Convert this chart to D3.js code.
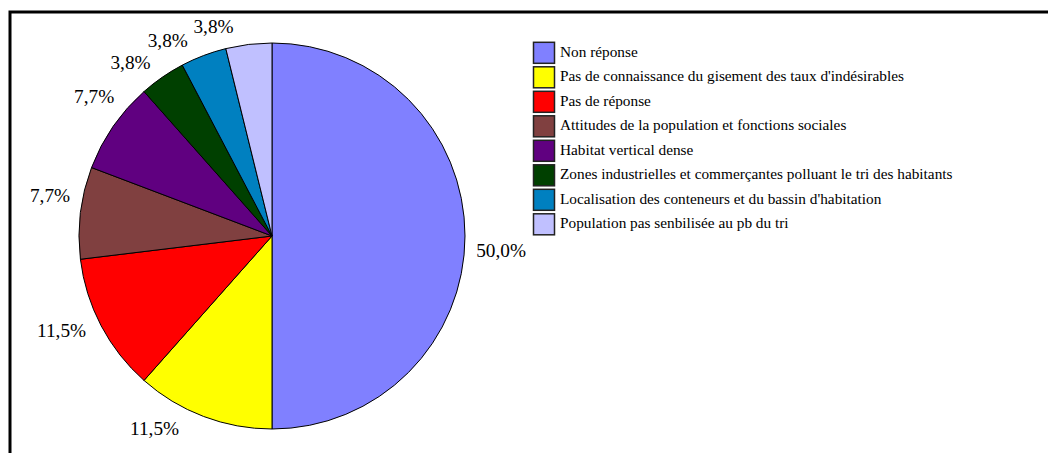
<!DOCTYPE html>
<html>
<head>
<meta charset="utf-8">
<script src="https://cdn.jsdelivr.net/npm/d3@7"></script>
<style>
  html, body { margin: 0; padding: 0; background: #fff; }
  svg { display: block; }
</style>
</head>
<body>
<svg id="chart" width="1048" height="453"></svg>
<script>
// ---- data ----
const categories = [
  "Non réponse",
  "Pas de connaissance du gisement des taux d'indésirables",
  "Pas de réponse",
  "Attitudes de la population et fonctions sociales",
  "Habitat vertical dense",
  "Zones industrielles et commerçantes polluant le tri des habitants",
  "Localisation des conteneurs et du bassin d'habitation",
  "Population pas senbilisée au pb du tri"
];
const counts = [13, 3, 3, 2, 2, 1, 1, 1];
const percentLabels = ["50,0%", "11,5%", "11,5%", "7,7%", "7,7%", "3,8%", "3,8%", "3,8%"];
const colors = ["#8080FF", "#FFFF00", "#FF0000", "#804040", "#600080", "#004000", "#0080C0", "#C0C0FF"];

// ---- layout ----
const FONT = "'Liberation Serif', 'Times New Roman', Times, 'DejaVu Serif', serif";
const cx = 272, cy = 236, R = 193;
const labelFont = 19.3;
const legendFont = 15.3;
const labelAngleOffset = 3.5 * Math.PI / 180;

const svg = d3.select("#chart");

// frame
svg.append("rect")
  .attr("x", 10).attr("y", 12)
  .attr("width", 1200).attr("height", 600)
  .attr("fill", "none").attr("stroke", "#000").attr("stroke-width", 3);

const pie = d3.pie().sort(null).value(d => d)(counts);
const arc = d3.arc().innerRadius(0).outerRadius(R);

const g = svg.append("g").attr("transform", `translate(${cx},${cy})`);
g.selectAll("path.slice")
  .data(pie)
  .join("path")
  .attr("class", "slice")
  .attr("d", arc)
  .attr("fill", (d, i) => colors[i])
  .attr("stroke", "#000")
  .attr("stroke-width", 1);

// ---- labels with simple collision handling ----
const gap = 8;
const boxH = labelFont * 1.15;
const padW = 3;
const minTop = 15 - cy, maxBottom = 439 - cy;

const labels = g.selectAll("text.lbl")
  .data(pie)
  .join("text")
  .attr("class", "lbl")
  .attr("font-family", FONT)
  .attr("fill", "#000")
  .style("font-size", labelFont + "px")
  .attr("text-anchor", "middle")
  .text((d, i) => percentLabels[i]);

const info = [];
labels.each(function (d, i) {
  const w = this.getComputedTextLength() + padW * 2;
  info.push({ i, w, mid: (d.startAngle + d.endAngle) / 2 + labelAngleOffset });
});

function placeAt(a, w) {
  const ext = Math.abs(Math.sin(a)) * w / 2 + Math.abs(Math.cos(a)) * boxH / 2;
  const r = R + gap + ext;
  const x = r * Math.sin(a), y = -r * Math.cos(a);
  return { x, y, x0: x - w / 2, x1: x + w / 2, y0: y - boxH / 2, y1: y + boxH / 2 };
}
function overlaps(b, list) {
  return list.some(o => b.x0 < o.x1 - 0.5 && b.x1 > o.x0 + 0.5 && b.y0 < o.y1 - 0.5 && b.y1 > o.y0 + 0.5);
}

const placed = [];
const pos = new Array(info.length);
const upper = info.filter(o => o.mid >= 1.5 * Math.PI).sort((a, b) => b.mid - a.mid);
const lower = info.filter(o => o.mid >= Math.PI && o.mid < 1.5 * Math.PI).sort((a, b) => a.mid - b.mid);
const right = info.filter(o => o.mid < Math.PI);

right.forEach(o => { const b = placeAt(o.mid, o.w); pos[o.i] = b; placed.push(b); });
function relax(group, dir) {
  group.forEach(o => {
    let a = o.mid, b = placeAt(a, o.w), n = 0;
    while ((b.y0 < minTop || b.y1 > maxBottom || overlaps(b, placed)) && n < 2000) {
      a += dir * 0.002; b = placeAt(a, o.w); n++;
    }
    pos[o.i] = b; placed.push(b);
  });
}
relax(upper, -1);
relax(lower, +1);

labels
  .attr("x", (d, i) => pos[i].x)
  .attr("y", (d, i) => pos[i].y + labelFont * 0.36);

// ---- legend ----
const legendX = 533.5, legendY0 = 52.8, legendStep = 24.5, box = 21;
const leg = svg.append("g");
const rows = leg.selectAll("g.row")
  .data(categories)
  .join("g")
  .attr("class", "row")
  .attr("transform", (d, i) => `translate(${legendX},${legendY0 + i * legendStep})`);
rows.append("rect")
  .attr("x", 0).attr("y", -box / 2)
  .attr("width", box).attr("height", box)
  .attr("fill", (d, i) => colors[i])
  .attr("stroke", "#222").attr("stroke-width", 1.5);
rows.append("text")
  .attr("x", box + 5.5)
  .attr("y", 4)
  .attr("font-family", FONT)
  .attr("fill", "#000")
  .style("font-size", legendFont + "px")
  .text(d => d);
</script>
</body>
</html>
